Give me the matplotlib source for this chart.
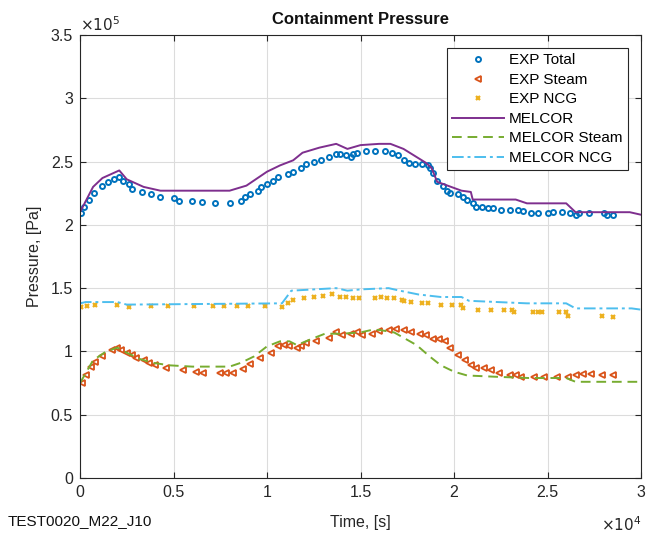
import matplotlib
matplotlib.use("Agg")
import matplotlib.pyplot as plt
import numpy as np

plt.rcParams['font.family'] = ['Liberation Sans', 'DejaVu Sans']

# ---------------- data (time in s, pressure in units of 1e5 Pa) ----------------
t_exp_total = [50, 200, 500, 750, 1200, 1500, 1800, 2100, 2300, 2600, 2800, 3300, 3800, 4300,
               5000, 5300, 6000, 6500, 7200, 8000, 8600, 8800, 9100, 9500, 9700, 10000, 10300,
               10600, 11100, 11400, 11800, 12100, 12500, 12900, 13300, 13700, 13900, 14200,
               14500, 14600, 14800, 15300, 15800, 16300, 16700, 17000, 17300, 17600, 17900,
               18300, 18600, 18700, 18900, 19100, 19400, 19600, 19800, 20200, 20500, 20700,
               21000, 21200, 21500, 21800, 22100, 22500, 23000, 23400, 23700, 24100, 24500,
               25000, 25300, 25800, 26200, 26500, 26700, 27200, 28000, 28200, 28500]
p_exp_total = [2.09, 2.14, 2.20, 2.25, 2.31, 2.34, 2.36, 2.38, 2.35, 2.32, 2.28, 2.26, 2.24, 2.22,
               2.21, 2.19, 2.19, 2.18, 2.17, 2.17, 2.19, 2.22, 2.24, 2.27, 2.30, 2.32, 2.35,
               2.38, 2.40, 2.42, 2.45, 2.48, 2.50, 2.51, 2.54, 2.56, 2.56, 2.55, 2.54, 2.56,
               2.57, 2.58, 2.58, 2.58, 2.57, 2.55, 2.51, 2.49, 2.48, 2.48, 2.47, 2.45, 2.41,
               2.35, 2.31, 2.27, 2.25, 2.24, 2.22, 2.20, 2.17, 2.14, 2.14, 2.13, 2.13, 2.12,
               2.12, 2.12, 2.11, 2.09, 2.09, 2.09, 2.10, 2.10, 2.09, 2.08, 2.09, 2.09, 2.09,
               2.08, 2.08]

t_exp_steam = [100, 300, 600, 800, 1200, 1700, 2000, 2200, 2500, 2800, 3000, 3400, 3700, 4000,
               4600, 5500, 6200, 6600, 7500, 7800, 8200, 8700, 9100, 9600, 10200, 10600, 10900,
               11200, 11600, 11800, 12100, 12600, 13300, 13700, 14000, 14500, 14800, 15100,
               15600, 16000, 16500, 16900, 17300, 17700, 18200, 18500, 18900, 19200, 19500,
               19800, 20200, 20600, 20900, 21200, 21600, 22000, 22400, 23000, 23300, 23600,
               24300, 24800, 25500, 26100, 26500, 26900, 27300, 27900, 28500]
p_exp_steam = [0.75, 0.81, 0.88, 0.92, 0.96, 1.01, 1.03, 1.01, 0.99, 0.97, 0.95, 0.93, 0.91, 0.89,
               0.87, 0.85, 0.84, 0.83, 0.83, 0.83, 0.83, 0.86, 0.90, 0.95, 0.99, 1.04, 1.05,
               1.04, 1.03, 1.04, 1.07, 1.08, 1.11, 1.15, 1.13, 1.14, 1.15, 1.13, 1.14, 1.16,
               1.17, 1.18, 1.17, 1.15, 1.14, 1.13, 1.10, 1.10, 1.08, 1.03, 0.97, 0.93, 0.89,
               0.87, 0.87, 0.85, 0.83, 0.81, 0.81, 0.80, 0.80, 0.80, 0.80, 0.80, 0.81, 0.82,
               0.82, 0.81, 0.81]

t_exp_ncg = [50, 400, 800, 2000, 2600, 3800, 4700, 6100, 7100, 7700, 8400, 9000, 9900, 10800,
             11100, 11400, 12000, 12500, 13000, 13500, 13900, 14200, 14600, 14900, 15800,
             16100, 16400, 16800, 17200, 17300, 17700, 18300, 18600, 19300, 19900, 20400,
             20500, 21300, 22000, 22700, 23100, 23200, 24200, 24500, 24700, 25600, 26000,
             26100, 27900, 28500]
p_exp_ncg = [1.35, 1.36, 1.37, 1.37, 1.35, 1.36, 1.36, 1.36, 1.36, 1.36, 1.36, 1.36, 1.36, 1.35,
             1.38, 1.41, 1.42, 1.43, 1.44, 1.45, 1.43, 1.43, 1.42, 1.42, 1.42, 1.43, 1.42,
             1.42, 1.41, 1.40, 1.39, 1.38, 1.38, 1.37, 1.37, 1.37, 1.34, 1.33, 1.33, 1.33,
             1.33, 1.31, 1.31, 1.31, 1.31, 1.31, 1.31, 1.28, 1.28, 1.27]

t_melcor = [0, 700, 1200, 2100, 2500, 3400, 4300, 8000, 8900, 10000, 10700, 11400, 11900,
            12800, 13700, 14300, 15000, 16000, 16600, 17300, 18500, 18800, 19100, 20400,
            20900, 21000, 23300, 23900, 26000, 26500, 29400, 30000]
p_melcor = [2.10, 2.30, 2.37, 2.43, 2.36, 2.30, 2.27, 2.27, 2.31, 2.42, 2.47, 2.51, 2.57,
            2.61, 2.64, 2.60, 2.63, 2.64, 2.64, 2.60, 2.49, 2.45, 2.34, 2.27, 2.26, 2.20,
            2.20, 2.17, 2.17, 2.10, 2.10, 2.08]

t_melcor_steam = [0, 700, 1400, 2000, 2500, 3200, 3900, 4800, 6000, 8000, 8600, 9300, 10000,
                  10700, 11200, 11600, 12400, 13100, 14000, 15000, 15600, 16000, 16800, 18000,
                  18700, 19300, 20000, 20700, 22200, 24000, 26000, 26500, 30000]
p_melcor_steam = [0.75, 0.93, 1.00, 1.03, 0.99, 0.94, 0.91, 0.89, 0.88, 0.88, 0.91, 0.96, 1.04,
                  1.08, 1.08, 1.05, 1.10, 1.14, 1.14, 1.15, 1.17, 1.17, 1.15, 1.05, 0.96, 0.89,
                  0.84, 0.81, 0.80, 0.79, 0.79, 0.76, 0.76]

t_melcor_ncg = [0, 300, 2000, 2500, 10800, 11300, 13700, 14300, 15000, 16500, 17100, 18100,
                19300, 20400, 20800, 23900, 26000, 26500, 29500, 30000]
p_melcor_ncg = [1.38, 1.39, 1.39, 1.37, 1.38, 1.48, 1.50, 1.48, 1.49, 1.50, 1.48, 1.45, 1.43,
                1.43, 1.40, 1.38, 1.38, 1.34, 1.34, 1.33]

x_ticks = [0, 5000, 10000, 15000, 20000, 25000, 30000]
x_tick_labels = ['0', '0.5', '1', '1.5', '2', '2.5', '3']
y_ticks = [0, 0.5e5, 1e5, 1.5e5, 2e5, 2.5e5, 3e5, 3.5e5]
y_tick_labels = ['0', '0.5', '1', '1.5', '2', '2.5', '3', '3.5']

# ---------------- figure ----------------
fig = plt.figure(figsize=(6.47, 5.33), dpi=100)
ax = fig.add_axes([80/647, 55/533, 561/647, 443/533])

c_blue = '#0072BD'
c_orange = '#D95319'
c_yellow = '#EDB120'
c_purple = '#7E2F8E'
c_green = '#77AC30'
c_cyan = '#4DBEEE'

P = 1e5
ax.plot(t_exp_total, np.array(p_exp_total) * P, linestyle='none', marker='o', ms=3.6,
        mfc='none', mec=c_blue, mew=1.4, label='EXP Total')
ax.plot(t_exp_steam, np.array(p_exp_steam) * P, linestyle='none', marker='<', ms=4.8,
        mfc='none', mec=c_orange, mew=1.3, label='EXP Steam')
ax.plot(t_exp_ncg, np.array(p_exp_ncg) * P, linestyle='none', marker='x', ms=3.3,
        mec=c_yellow, mew=1.6, label='EXP NCG')
ax.plot(t_melcor, np.array(p_melcor) * P, color=c_purple, lw=1.4, label='MELCOR')
ax.plot(t_melcor_steam, np.array(p_melcor_steam) * P, color=c_green, lw=1.4,
        linestyle=(0, (5, 3)), label='MELCOR Steam')
ax.plot(t_melcor_ncg, np.array(p_melcor_ncg) * P, color=c_cyan, lw=1.4,
        linestyle=(0, (6, 2, 1.5, 2)), label='MELCOR NCG')

ax.set_xlim(0, 30000)
ax.set_ylim(0, 3.5e5)
ax.set_xticks(x_ticks)
ax.set_xticklabels(x_tick_labels)
ax.set_yticks(y_ticks)
ax.set_yticklabels(y_tick_labels)

ax.grid(True, color='#dcdcdc', lw=0.8)
ax.set_axisbelow(True)
for s in ax.spines.values():
    s.set_color('#262626')
    s.set_linewidth(0.8)
ax.tick_params(direction='in', top=True, right=True, length=4, width=0.8,
               labelsize=11.5, colors='#262626', pad=5)

ax.set_title('Containment Pressure', fontsize=12, fontweight='bold', pad=8, color='#111111')
ax.set_ylabel('Pressure, [Pa]', fontsize=11.5, color='#262626', labelpad=6)
ax.set_xlabel('Time, [s]', fontsize=11.5, color='#262626', labelpad=11)

ax.text(0.0, 1.003, r'$\times10^{5}$', transform=ax.transAxes, ha='left', va='bottom',
        fontsize=11, color='#262626')
ax.text(1.0, -0.085, r'$\times10^{4}$', transform=ax.transAxes, ha='right', va='top',
        fontsize=11, color='#262626')
fig.text(8/647, 1 - 521/533, 'TEST0020_M22_J10', ha='left', va='center', fontsize=11,
         color='#111111')

leg = ax.legend(loc='upper right', bbox_to_anchor=(1 - 13/561, 1 - 13/443), borderaxespad=0,
                fontsize=11, frameon=True, fancybox=False, edgecolor='#262626', framealpha=1,
                handlelength=3.4, borderpad=0.35, labelspacing=0.36, handletextpad=0.35)
leg.get_frame().set_linewidth(0.8)

fig.savefig('out.png', dpi=100)
